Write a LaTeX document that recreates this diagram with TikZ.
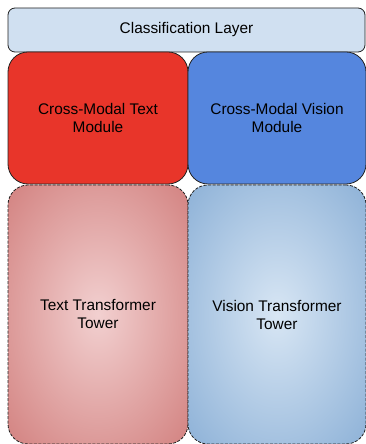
\documentclass[tikz,border=0pt]{standalone}
\usepackage{fontspec}
\setmainfont{Liberation Sans}
\definecolor{clsfill}{HTML}{D0E0F1}
\definecolor{redmod}{HTML}{E8352A}
\definecolor{bluemod}{HTML}{5586DE}
\definecolor{redin}{HTML}{F2D0D0}
\definecolor{redout}{HTML}{CD7472}
\definecolor{bluein}{HTML}{D8E6F4}
\definecolor{blueout}{HTML}{80A8D2}
\definecolor{edge}{HTML}{222222}
\pgfdeclareradialshading{redrad}{\pgfpointorigin}{color(0bp)=(redin); color(42bp)=(redout); color(60bp)=(redout)}
\pgfdeclareradialshading{bluerad}{\pgfpointorigin}{color(0bp)=(bluein); color(42bp)=(blueout); color(60bp)=(blueout)}
\begin{document}
\begin{tikzpicture}[x=1pt,y=1pt,
  box/.style={draw=edge, line width=0.8pt, rounded corners=20pt, align=center,
    font=\fontsize{15.4}{18}\selectfont, inner sep=0pt},
  module/.style={box, minimum height=132pt},
  tower/.style={box, dash pattern=on 3pt off 1.5pt, minimum height=259pt}]
\useasboundingbox (0,0) rectangle (366,444);
\fill[white] (0,0) rectangle (366,444);
\node[box, rounded corners=7pt, fill=clsfill, minimum width=357pt, minimum height=44pt] (cls) at (186.5,414) {Classification Layer};
\node[tower, minimum width=180pt, shading=redrad] (ttower) at (98,129.5) {Text Transformer\\Tower};
\node[tower, minimum width=178pt, shading=bluerad] (vtower) at (277,129.5) {Vision Transformer\\Tower};
\node[module, minimum width=180pt, fill=redmod] (tmod) at (98,326) {Cross-Modal Text\\Module};
\node[module, minimum width=178pt, fill=bluemod] (vmod) at (277,326) {Cross-Modal Vision\\Module};
\end{tikzpicture}
\end{document}
